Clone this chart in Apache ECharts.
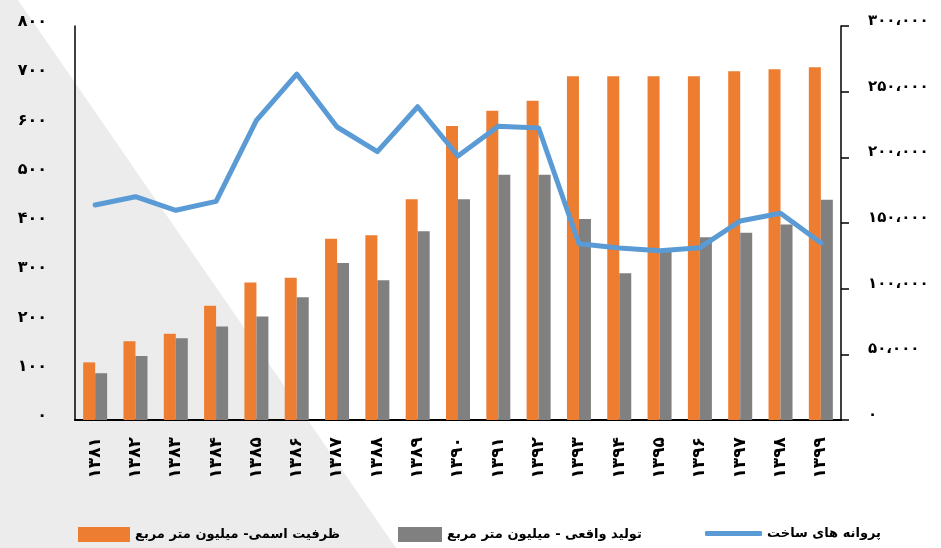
<!DOCTYPE html>
<html>
<head>
<meta charset="utf-8">
<script src="https://cdn.jsdelivr.net/npm/echarts@6/dist/echarts.min.js"></script>
<style>
  html, body { margin: 0; padding: 0; background: #fff; }
  #chart { width: 941px; height: 548px; }
</style>
</head>
<body>
<div id="chart"></div>
<script>
// سال ها
const years = ['۱۳۸۱', '۱۳۸۲', '۱۳۸۳', '۱۳۸۴', '۱۳۸۵', '۱۳۸۶', '۱۳۸۷', '۱۳۸۸', '۱۳۸۹', '۱۳۹۰',
  '۱۳۹۱', '۱۳۹۲', '۱۳۹۳', '۱۳۹۴', '۱۳۹۵', '۱۳۹۶', '۱۳۹۷', '۱۳۹۸', '۱۳۹۹']
// ظرفیت اسمی
const capacity = [117, 160, 175, 232, 279, 289, 368, 375, 448, 597,
  628, 648, 698, 698, 698, 698, 708, 712, 716]
// تولید واقعی
const production = [95, 130, 166, 190, 210, 249, 319, 284, 383, 448,
  498, 498, 408, 298, 342, 371, 380, 397, 447]
// پروانه های ساخت
const permits = [163700, 170000, 159700, 166500, 228200, 263400, 223100, 204300, 238500, 201000,
  223600, 222300, 134200, 131000, 128900, 131200, 151500, 157400, 135000]
// برچسب محورها
const leftTicks = ['۰', '۱۰۰', '۲۰۰', '۳۰۰', '۴۰۰', '۵۰۰', '۶۰۰', '۷۰۰', '۸۰۰']
const rightTicks = ['۰', '۵۰،۰۰۰', '۱۰۰،۰۰۰', '۱۵۰،۰۰۰', '۲۰۰،۰۰۰', '۲۵۰،۰۰۰', '۳۰۰،۰۰۰']

const names = ['ظرفیت اسمی- میلیون متر مربع', 'تولید واقعی - میلیون متر مربع', 'پروانه های ساخت']
const font = 'DejaVu Sans'
const legendText = { fontFamily: font, fontWeight: 'bold', fontSize: 13, color: '#000' }

const myChart = echarts.init(document.getElementById('chart'))
const option = {
  animation: false,
  graphic: [
    {
      type: 'polygon',
      z: -10,
      silent: true,
      shape: { points: [[0, 0], [18, 0], [396, 548], [0, 548]] },
      style: { fill: '#ececec' }
    }
  ],
  grid: { left: 75, right: 100, top: 26, bottom: 128 },
  legend: [
    { left: 73, top: 522, itemWidth: 52, itemHeight: 15, icon: 'rect', data: [names[0]], textStyle: legendText },
    { left: 393, top: 522, itemWidth: 44, itemHeight: 15, icon: 'rect', data: [names[1]], textStyle: legendText },
    { left: 700, top: 522, itemWidth: 57, itemHeight: 5, icon: 'roundRect', data: [names[2]], textStyle: legendText }
  ],
  xAxis: {
    type: 'category',
    data: years,
    axisLine: { lineStyle: { color: '#000', width: 2 } },
    axisTick: { show: false },
    axisLabel: {
      rotate: 90,
      margin: 17,
      interval: 0,
      fontFamily: font,
      fontWeight: 'bold',
      fontSize: 17,
      color: '#000'
    }
  },
  yAxis: [
    {
      type: 'value',
      min: 0,
      max: 800,
      interval: 100,
      splitLine: { show: false },
      axisLine: { show: true, lineStyle: { color: '#000', width: 1.5 } },
      axisTick: { show: false },
      axisLabel: {
        margin: 28,
        verticalAlign: 'bottom',
        lineHeight: 8,
        fontFamily: font,
        fontWeight: 'bold',
        fontSize: 16,
        color: '#000',
        formatter: function (v) { return leftTicks[Math.round(v / 100)] }
      }
    },
    {
      type: 'value',
      min: 0,
      max: 300000,
      interval: 50000,
      splitLine: { show: false },
      axisLine: { show: true, lineStyle: { color: '#000', width: 1.5 } },
      axisTick: { show: true, length: 8, lineStyle: { color: '#000', width: 1.5 } },
      axisLabel: {
        margin: 27,
        verticalAlign: 'bottom',
        lineHeight: 10,
        fontFamily: font,
        fontWeight: 'bold',
        fontSize: 15,
        color: '#000',
        formatter: function (v) { return rightTicks[Math.round(v / 50000)] }
      }
    }
  ],
  series: [
    {
      name: names[0],
      type: 'bar',
      yAxisIndex: 0,
      barWidth: 12,
      barGap: '0%',
      data: capacity,
      itemStyle: { color: '#ed7d31' }
    },
    {
      name: names[1],
      type: 'bar',
      yAxisIndex: 0,
      barWidth: 12,
      barGap: '0%',
      data: production,
      itemStyle: { color: '#808080' }
    },
    {
      name: names[2],
      type: 'line',
      yAxisIndex: 1,
      data: permits,
      symbol: 'none',
      showSymbol: false,
      z: 5,
      lineStyle: { color: '#5b9bd5', width: 5, cap: 'round', join: 'round' },
      itemStyle: { color: '#5b9bd5' }
    }
  ]
}
myChart.setOption(option)
</script>
</body>
</html>
